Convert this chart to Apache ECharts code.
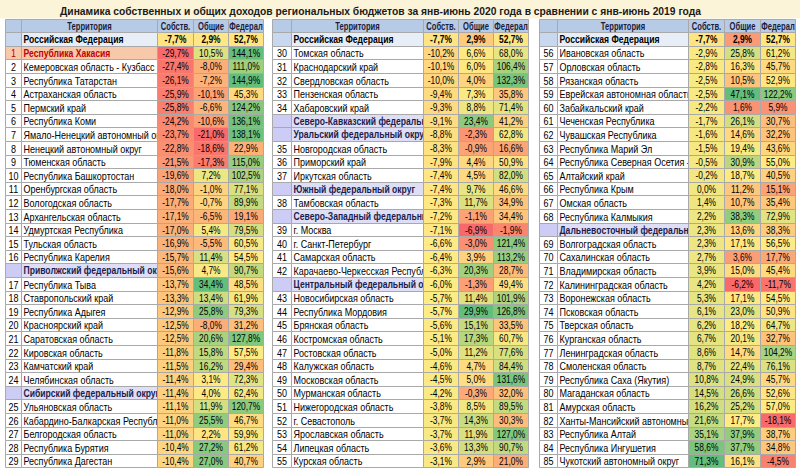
<!DOCTYPE html>
<html><head><meta charset="utf-8">
<script src="https://cdn.jsdelivr.net/npm/echarts@6/dist/echarts.min.js"></script>
<style>html,body{margin:0;padding:0;background:#fff}#c{width:800px;height:474px}</style>
</head><body><div id="c"></div>
<script>
const title = 'Динамика собственных и общих доходов региональных бюджетов за янв-июнь 2020 года в сравнении с янв-июнь 2019 года';
const headers = ['', 'Территория', 'Собств.', 'Общие', 'Федерал'];
const highlighted = ['Республика Хакасия'];

const territories1 = ['Российская Федерация','Республика Хакасия','Кемеровская область - Кузбасс','Республика Татарстан','Астраханская область','Пермский край','Республика Коми','Ямало-Ненецкий автономный округ','Ненецкий автономный округ','Тюменская область','Республика Башкортостан','Оренбургская область','Вологодская область','Архангельская область','Удмуртская Республика','Тульская область','Республика Карелия','Приволжский федеральный округ','Республика Тыва','Ставропольский край','Республика Адыгея','Красноярский край','Саратовская область','Кировская область','Камчатский край','Челябинская область','Сибирский федеральный округ','Ульяновская область','Кабардино-Балкарская Республика','Белгородская область','Республика Бурятия','Республика Дагестан'];
const own1 = [-7.7,-29.7,-27.4,-26.1,-25.9,-25.8,-24.2,-23.7,-22.8,-21.5,-19.6,-18.0,-17.7,-17.1,-17.0,-16.9,-15.7,-15.6,-13.7,-13.3,-12.9,-12.5,-12.5,-11.8,-11.5,-11.4,-11.4,-11.1,-11.0,-11.0,-10.4,-10.4];
const total1 = [2.9,10.5,-8.0,-7.2,-10.1,-6.6,-10.6,-21.0,-18.6,-17.3,7.2,-1.0,-0.7,-6.5,5.4,-5.5,11.4,4.7,34.4,13.4,25.8,-8.0,20.6,15.8,16.2,3.1,4.0,11.9,25.5,2.2,27.2,27.0];
const federal1 = [52.7,144.1,111.0,144.9,45.3,124.2,136.1,138.1,22.9,115.0,102.5,77.1,89.9,19.1,79.5,60.5,54.5,90.7,48.5,61.9,79.3,31.2,127.8,57.5,29.4,72.3,62.4,120.7,46.7,59.9,61.2,40.7];

const territories2 = ['Российская Федерация','Томская область','Краснодарский край','Свердловская область','Пензенская область','Хабаровский край','Северо-Кавказский федеральный округ','Уральский федеральный округ','Новгородская область','Приморский край','Иркутская область','Южный федеральный округ','Тамбовская область','Северо-Западный федеральный округ','г. Москва','г. Санкт-Петербург','Самарская область','Карачаево-Черкесская Республика','Центральный федеральный округ','Новосибирская область','Республика Мордовия','Брянская область','Костромская область','Ростовская область','Калужская область','Московская область','Мурманская область','Нижегородская область','г. Севастополь','Ярославская область','Липецкая область','Курская область'];
const own2 = [-7.7,-10.2,-10.1,-10.0,-9.4,-9.3,-9.1,-8.8,-8.3,-7.9,-7.4,-7.4,-7.3,-7.2,-7.1,-6.6,-6.4,-6.3,-6.0,-5.7,-5.7,-5.6,-5.1,-5.0,-4.6,-4.5,-4.2,-3.8,-3.7,-3.7,-3.6,-3.1];
const total2 = [2.9,6.6,6.0,4.0,7.3,8.8,23.4,-2.3,-0.9,4.4,4.5,9.7,11.7,-1.1,-6.9,-3.0,3.9,20.3,-1.3,11.4,29.9,15.1,17.3,11.2,4.7,5.0,-0.3,8.5,14.3,11.9,13.3,2.9];
const federal2 = [52.7,68.0,106.4,132.3,35.8,71.4,41.2,62.8,16.6,50.9,82.0,46.6,34.9,34.4,-1.9,121.4,113.2,28.7,49.4,101.9,126.8,33.5,60.7,77.6,84.4,131.6,32.0,89.5,30.3,127.0,90.7,21.0];

const territories3 = ['Российская Федерация','Ивановская область','Орловская область','Рязанская область','Еврейская автономная область','Забайкальский край','Чеченская Республика','Чувашская Республика','Республика Марий Эл','Республика Северная Осетия - Алания','Алтайский край','Республика Крым','Омская область','Республика Калмыкия','Дальневосточный федеральный округ','Волгоградская область','Сахалинская область','Владимирская область','Калининградская область','Воронежская область','Псковская область','Тверская область','Курганская область','Ленинградская область','Смоленская область','Республика Саха (Якутия)','Магаданская область','Амурская область','Ханты-Мансийский автономный округ','Республика Алтай','Республика Ингушетия','Чукотский автономный округ'];
const own3 = [-7.7,-2.9,-2.8,-2.5,-2.5,-2.2,-1.7,-1.6,-1.5,-0.5,-0.2,0.0,1.4,2.2,2.3,2.3,2.7,3.9,4.2,5.3,6.1,6.2,6.7,8.6,8.7,10.8,14.5,16.2,21.6,35.1,58.6,71.3];
const total3 = [2.9,25.8,16.3,10.5,47.1,1.6,26.1,14.6,19.4,30.9,18.7,11.2,10.7,38.3,13.6,17.1,3.6,15.0,-6.2,17.1,23.0,18.2,20.1,14.7,22.4,24.9,26.6,25.2,17.7,37.9,37.7,16.1];
const federal3 = [52.7,61.2,45.7,52.9,122.2,5.9,30.7,32.2,43.6,55.0,40.5,15.1,35.4,72.9,38.3,56.5,17.7,45.4,-11.7,54.5,50.9,64.7,32.7,104.2,76.1,45.7,52.6,57.0,-18.1,38.7,34.8,-4.5];

// ---------- layout & styles ----------
const FONT = '"Liberation Sans", Arial, sans-serif';
const SX_NAME = 0.9, SX_BOLDNAME = 0.86, SX_VAL = 0.84, SX_HEAD = 0.76;
const TOP = 18.6, ROWH = 13.6;
const blocks = [
  {x: 5,   w: [16, 136, 36, 35, 35], names: territories1, cols: [own1, total1, federal1]},
  {x: 272, w: [19, 132, 35, 35, 35], names: territories2, cols: [own2, total2, federal2]},
  {x: 539, w: [18, 131, 36, 36, 35], names: territories3, cols: [own3, total3, federal3]}
];
const RED = '#f8696b', YEL = '#ffeb84', GRN = '#63be7b';

function kind(name) {
  if (name === 'Российская Федерация') return 'rf';
  if (name.indexOf('федеральный округ') >= 0) return 'fd';
  if (highlighted.indexOf(name) >= 0) return 'hl';
  return 'reg';
}
function scaleOf(values) {
  const s = values.slice().sort((a, b) => a - b);
  const p = (s.length - 1) * 0.5, lo = Math.floor(p), hi = Math.ceil(p);
  return {min: s[0], mid: s[lo] + (s[hi] - s[lo]) * (p - lo), max: s[s.length - 1]};
}
function colorFor(v, sc) {
  if (v <= sc.mid) return echarts.color.lerp(Math.max(0, (v - sc.min) / (sc.mid - sc.min)), [RED, YEL]);
  return echarts.color.lerp(Math.min(1, (v - sc.mid) / (sc.max - sc.mid)), [YEL, GRN]);
}
const fmt = v => v.toFixed(1).replace('.', ',') + '%';

const mctx = document.createElement('canvas').getContext('2d');
function fitText(text, font, maxW, sx) {
  mctx.font = font;
  let t = text;
  while (t.length > 0 && mctx.measureText(t).width * sx > maxW) t = t.slice(0, -1);
  return t;
}

// numbering of regions
let counter = 0;
blocks.forEach(b => { b.nums = b.names.map(n => kind(n) === 'reg' || kind(n) === 'hl' ? String(++counter) : ''); });

// colour scales: own & federal over the whole table, total per block
function wholeColumn(ci) {
  const out = [];
  blocks.forEach((b, bi) => b.cols[ci].forEach((v, i) => { if (!(bi > 0 && i === 0)) out.push(v); }));
  return out;
}
const ownScale = scaleOf(wholeColumn(0));
const fedScale = scaleOf(wholeColumn(2));
blocks.forEach(b => { b.scales = [ownScale, scaleOf(b.cols[1]), fedScale]; });

function cellInfo(b, col, r) {
  if (r === 0) return {bg: '#b7cbe7', text: headers[col], color: '#1b1b3a', bold: true, align: 'center', sx: SX_HEAD, fit: true};
  const i = r - 1, name = b.names[i], k = kind(name);
  if (col === 0) {
    const bg = k === 'rf' ? '#c8d8ee' : k === 'fd' ? '#ccccf4' : k === 'hl' ? '#f8c8aa' : '#ffffff';
    return {bg, text: b.nums[i], color: k === 'hl' ? '#c00000' : '#000', bold: false, align: 'center', sx: SX_NAME, fit: true};
  }
  if (col === 1) {
    const bg = k === 'rf' ? '#e8eef8' : k === 'fd' ? '#dedef6' : k === 'hl' ? '#f8c8aa' : '#ffffff';
    const color = k === 'hl' ? '#c00000' : k === 'fd' ? '#1c1c4c' : '#000';
    const bold = k !== 'reg';
    // long names run under the neighbouring (opaque) value cells, which hide the overflow
    return {bg, text: name, color, bold, align: 'left', sx: bold ? SX_BOLDNAME : SX_NAME, fit: false};
  }
  const v = b.cols[col - 2][i];
  return {bg: colorFor(v, b.scales[col - 2]), text: fmt(v), color: '#000', bold: k === 'rf', align: 'center', sx: SX_VAL, fit: true};
}

const rowKeys = ['h'].concat(territories1.map((_, i) => String(i)));
const grids = [], xAxes = [], yAxes = [], series = [];
blocks.forEach((b, bi) => {
  let left = b.x;
  b.w.forEach((w, col) => {
    const k = grids.length;
    grids.push({left: left, top: TOP, width: w, height: ROWH * rowKeys.length});
    xAxes.push({gridIndex: k, type: 'category', data: [headers[col] || '#'], show: false});
    yAxes.push({gridIndex: k, type: 'category', data: rowKeys, inverse: true, show: false});
    series.push({
      type: 'custom', xAxisIndex: k, yAxisIndex: k, silent: true, animation: false,
      clip: false, z: col <= 1 ? 2 : 3,
      data: rowKeys.map((_, r) => [0, r]),
      renderItem: (params, api) => {
        const r = api.value(1);
        const c = api.coord([0, r]);
        const sz = api.size([0, r]);
        const x0 = Math.round(c[0] - sz[0] / 2) + 0.5, x1 = Math.round(c[0] + sz[0] / 2) + 0.5;
        const y0 = Math.round(c[1] - sz[1] / 2) + 0.5, y1 = Math.round(c[1] + sz[1] / 2) + 0.5;
        const info = cellInfo(b, col, r);
        const cw = x1 - x0;
        const tx = info.align === 'left' ? x0 + 2 : (x0 + x1) / 2;
        const font = (info.bold ? 'bold ' : '') + '10px ' + FONT;
        const txt = info.fit ? fitText(info.text, font, cw - 1.5, info.sx) : info.text;
        return {type: 'group', children: [
          {type: 'rect', shape: {x: x0, y: y0, width: cw, height: y1 - y0},
           style: {fill: info.bg, stroke: '#a9a9a9', lineWidth: 1}},
          {type: 'text', x: tx, y: (y0 + y1) / 2 + 0.5, scaleX: info.sx, scaleY: 1,
           style: {text: txt, fill: info.color, align: info.align, verticalAlign: 'middle', font: font}}
        ]};
      }
    });
    left += w;
  });
});

// title fitted to its width in the reference
mctx.font = 'bold 11px ' + FONT;
const titleScale = 642 / mctx.measureText(title).width;

const chart = echarts.init(document.getElementById('c'), null, {renderer: 'svg'});
chart.setOption({
  backgroundColor: '#ffffff',
  animation: false,
  graphic: [
    {type: 'rect', silent: true, z: -10, shape: {x: 0, y: 0, width: 800, height: 18.5}, style: {fill: '#fcf4d9'}},
    {type: 'text', silent: true, x: 60, y: 10.5, scaleX: titleScale,
     style: {text: title, font: 'bold 11px ' + FONT, fill: '#1a1a1a', align: 'left', verticalAlign: 'middle'}}
  ],
  grid: grids, xAxis: xAxes, yAxis: yAxes, series: series
});
</script></body></html>
